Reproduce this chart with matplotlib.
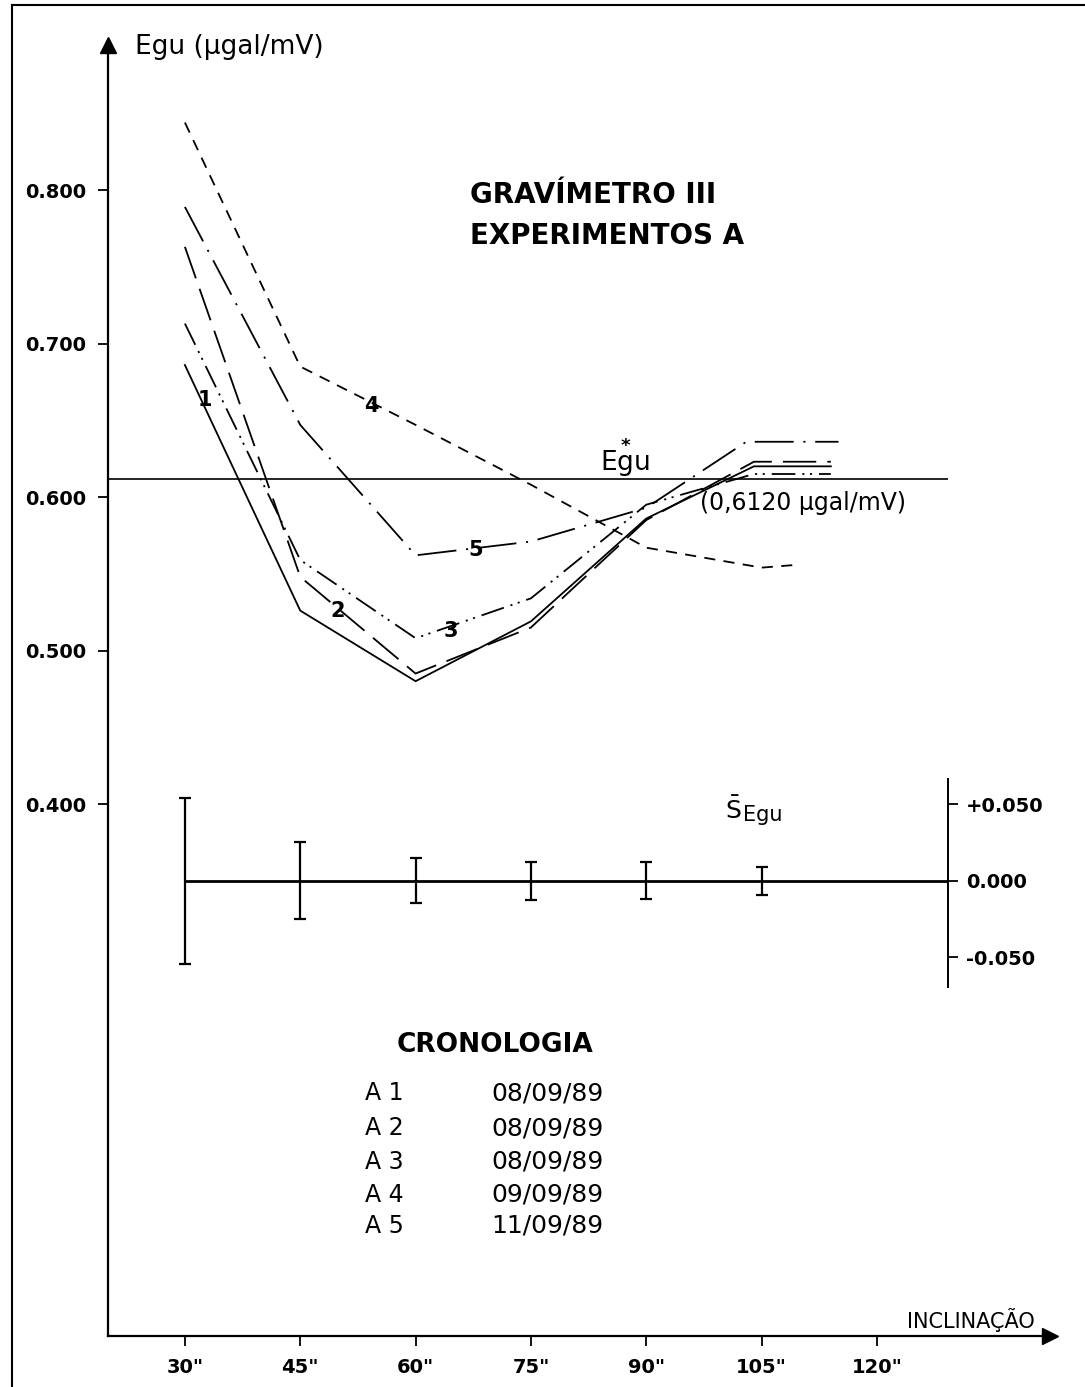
import matplotlib
matplotlib.use("Agg")
import matplotlib.pyplot as plt
from matplotlib.lines import Line2D

plt.rcParams['lines.scale_dashes'] = False
plt.rcParams['font.family'] = ['DejaVu Sans']
plt.rcParams['mathtext.fontset'] = 'dejavusans'

# Egu per experiment vs inclination
incl = [30, 45, 60, 75, 90, 104, 114]
a1 = [0.686, 0.526, 0.480, 0.519, 0.586, 0.620, 0.620]
a2 = [0.763, 0.548, 0.485, 0.515, 0.585, 0.623, 0.623]
a3 = [0.713, 0.559, 0.508, 0.534, 0.595, 0.615, 0.615]
incl4 = [30, 45, 60, 75, 90, 105, 110]
a4 = [0.844, 0.685, 0.647, 0.608, 0.567, 0.554, 0.556]
incl5 = [30, 45, 60, 75, 90, 103, 115]
a5 = [0.789, 0.647, 0.562, 0.571, 0.593, 0.636, 0.636]

egu_star = 0.6120

# standard deviation of the mean Egu
sd_incl = [30, 45, 60, 75, 90, 105]
sd = [0.054, 0.025, 0.0145, 0.0125, 0.012, 0.009]

xticks = [30, 45, 60, 75, 90, 105, 120]
yticks = [0.4, 0.5, 0.6, 0.7, 0.8]
sd_ticks = [-0.05, 0.0, 0.05]

crono_ids = ["A 1", "A 2", "A 3", "A 4", "A 5"]
crono_dates = ["08/09/89", "08/09/89", "08/09/89", "09/09/89", "11/09/89"]

X_RIGHT = 129.2      # end of reference line / position of right axis
SD_OFFSET = 0.35     # where the S-panel zero sits on the main scale

fig = plt.figure(figsize=(10.85, 13.87), dpi=100)
rect = [108 / 1085, 51 / 1387, (1050 - 108) / 1085, (1336 - 45) / 1387]
ax = fig.add_axes(rect)
ax.set_xlim(20, 142.5)
ax.set_ylim(0.0534, 0.8945)

for s in ['top', 'right']:
    ax.spines[s].set_visible(False)
for s in ['left', 'bottom']:
    ax.spines[s].set_linewidth(1.6)
ax.plot(1, 0, '>k', ms=11, transform=ax.transAxes, clip_on=False)
ax.plot(0, 1, '^k', ms=11, transform=ax.transAxes, clip_on=False)

ax.set_yticks(yticks)
ax.set_yticklabels([f"{v:.3f}" for v in yticks], fontweight='bold')
ax.set_xticks(xticks)
ax.set_xticklabels([f'{v}"' for v in xticks], fontweight='bold')
ax.tick_params(direction='out', length=7, width=1.3, pad=9, labelsize=14)

lw = 1.3
ax.plot(incl, a1, color='k', lw=lw)
ax.plot(incl, a2, color='k', lw=lw, dashes=(24, 8))
ax.plot(incl, a3, color='k', lw=lw, dashes=(17, 5, 1.5, 4, 1.5, 5))
ax.plot(incl4, a4, color='k', lw=lw, dashes=(8, 6))
ax.plot(incl5, a5, color='k', lw=lw, dashes=(28, 7, 1.5, 7))

ax.hlines(egu_star, 20, X_RIGHT, color='k', lw=1.2)

# curve labels
lab_kw = dict(fontsize=15, fontweight='bold', ha='center', va='center')
ax.text(32.6, 0.663, "1", **lab_kw)
ax.text(49.8, 0.526, "2", **lab_kw)
ax.text(64.6, 0.513, "3", **lab_kw)
ax.text(54.3, 0.659, "4", **lab_kw)
ax.text(67.8, 0.5655, "5", **lab_kw)

ax.text(67.1, 0.797, "GRAVÍMETRO III", fontsize=20, fontweight='bold', va='center')
ax.text(67.1, 0.770, "EXPERIMENTOS A", fontsize=20, fontweight='bold', va='center')

ax.text(23.5, 0.893, "Egu (μgal/mV)", fontsize=19, va='center', clip_on=False)
ax.text(84.0, 0.626, r"$\mathrm{E}\overset{\mathbf{*}}{\mathrm{g}}\mathrm{u}$",
        fontsize=19, va='center')
ax.text(97.0, 0.596, "(0,6120 μgal/mV)", fontsize=17, va='center')
ax.text(140.5, 0.0638, "INCLINAÇÃO", fontsize=15, ha='right', va='center')

# S Egu panel on its own scale
ax2 = fig.add_axes(rect)
ax2.patch.set_alpha(0)
ax2.set_xlim(ax.get_xlim())
lo, hi = ax.get_ylim()
ax2.set_ylim(lo - SD_OFFSET, hi - SD_OFFSET)
for s in ['top', 'left', 'bottom']:
    ax2.spines[s].set_visible(False)
ax2.spines['right'].set_position(('data', X_RIGHT))
ax2.spines['right'].set_bounds(-0.069, 0.0665)
ax2.spines['right'].set_linewidth(1.4)
ax2.xaxis.set_visible(False)
ax2.yaxis.tick_right()
ax2.set_yticks(sd_ticks)
ax2.set_yticklabels(["-0.050", "0.000", "+0.050"], fontweight='bold')
ax2.tick_params(direction='out', length=7, width=1.3, pad=6, labelsize=14)

ax2.hlines(0, sd_incl[0], X_RIGHT, color='k', lw=2)
ax2.errorbar(sd_incl, [0] * len(sd), yerr=sd, fmt='none', ecolor='k',
             elinewidth=1.6, capsize=4, capthick=1.6)
ax2.text(100.2, 0.046, r"$\bar{\mathrm{S}}$", fontsize=18, va='center')
ax2.text(102.6, 0.043, "Egu", fontsize=15, va='center')

# chronology
ax.text(70.3, 0.243, "CRONOLOGIA", fontsize=19, fontweight='bold', ha='center', va='center')
row_y = [0.2117, 0.1889, 0.1668, 0.1453, 0.1251]
for yy, i, d in zip(row_y, crono_ids, crono_dates):
    ax.text(53.4, yy, i, fontsize=17, va='center')
    ax.text(77.1, yy, d, fontsize=18, ha='center', va='center')

# page frame
fig.add_artist(Line2D([12 / 1085, 1], [1 - 5 / 1387, 1 - 5 / 1387], color='k', lw=1.5))
fig.add_artist(Line2D([12 / 1085, 12 / 1085], [0, 1 - 5 / 1387], color='k', lw=1.5))

fig.savefig("out.png", dpi=100)
